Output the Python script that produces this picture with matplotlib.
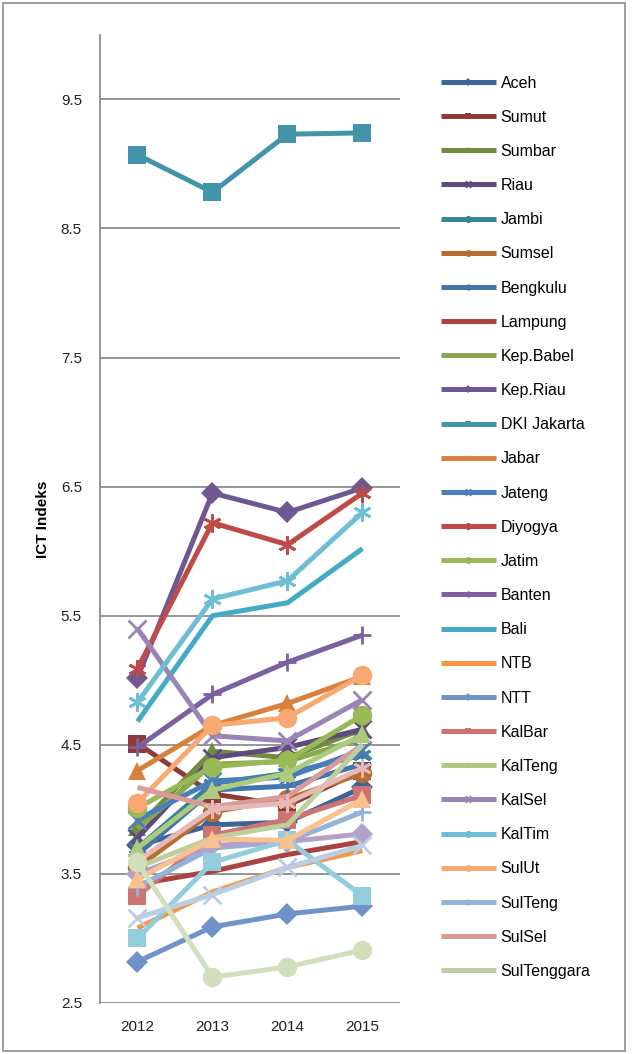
import matplotlib
matplotlib.use("Agg")
import matplotlib.pyplot as plt
import matplotlib.patches as patches

plt.rcParams["font.family"] = ["Liberation Sans", "DejaVu Sans"]

years = ["2012", "2013", "2014", "2015"]

# провинции (первые 27 попадают в легенду, остальные только на графике)
provinces = [
    "Aceh", "Sumut", "Sumbar", "Riau", "Jambi", "Sumsel", "Bengkulu", "Lampung",
    "Kep.Babel", "Kep.Riau", "DKI Jakarta", "Jabar", "Jateng", "Diyogya", "Jatim",
    "Banten", "Bali", "NTB", "NTT", "KalBar", "KalTeng", "KalSel", "KalTim",
    "SulUt", "SulTeng", "SulSel", "SulTenggara", "Gorontalo", "SulBar", "Maluku",
    "Maluku Utara", "Papua Barat", "Papua",
]

values = [
    [3.72, 3.88, 3.90, 4.17],   # Aceh
    [4.51, 4.12, 4.03, 4.30],   # Sumut
    [3.86, 4.45, 4.40, 4.62],   # Sumbar
    [3.78, 4.40, 4.48, 4.62],   # Riau
    [3.70, 4.20, 4.28, 4.42],   # Jambi
    [3.55, 3.98, 4.08, 4.28],   # Sumsel
    [3.65, 4.15, 4.18, 4.35],   # Bengkulu
    [3.42, 3.52, 3.65, 3.75],   # Lampung
    [3.85, 4.35, 4.37, 4.55],   # Kep.Babel
    [5.02, 6.45, 6.30, 6.49],   # Kep.Riau
    [9.07, 8.78, 9.23, 9.24],   # DKI Jakarta
    [4.30, 4.65, 4.82, 5.03],   # Jabar
    [3.92, 4.22, 4.25, 4.46],   # Jateng
    [5.09, 6.22, 6.05, 6.45],   # Diyogya
    [4.01, 4.33, 4.38, 4.73],   # Jatim
    [4.48, 4.89, 5.14, 5.35],   # Banten
    [4.68, 5.50, 5.60, 6.02],   # Bali
    [3.08, 3.36, 3.55, 3.68],   # NTB
    [2.82, 3.09, 3.19, 3.25],   # NTT
    [3.33, 3.80, 3.92, 4.11],   # KalBar
    [3.70, 4.15, 4.28, 4.58],   # KalTeng
    [5.40, 4.57, 4.53, 4.85],   # KalSel
    [4.83, 5.63, 5.77, 6.30],   # KalTim
    [4.05, 4.65, 4.71, 5.04],   # SulUt
    [3.40, 3.70, 3.75, 3.98],   # SulTeng
    [4.17, 4.02, 4.10, 4.50],   # SulSel
    [3.55, 3.78, 3.88, 4.50],   # SulTenggara
    [3.50, 3.72, 3.75, 3.81],   # Gorontalo
    [3.00, 3.59, 3.76, 3.33],   # SulBar
    [3.46, 3.77, 3.76, 4.08],   # Maluku
    [3.16, 3.34, 3.55, 3.72],   # Maluku Utara
    [3.60, 4.00, 4.05, 4.32],   # Papua Barat
    [3.59, 2.70, 2.78, 2.91],   # Papua
]

# цвета в духе Excel: 6 акцентов и их оттенки
colors = [
    "#3B6596", "#8E3B38", "#728B40", "#5E4A7C", "#36849A", "#B76E32",
    "#4474AC", "#AA4340", "#88A94F", "#6E5893", "#4294AB", "#D8813E",
    "#4A7EBB", "#BE4B48", "#98B954", "#7D60A0", "#46AAC5", "#F69546",
    "#6F93C9", "#CD7371", "#AECA7E", "#9A84B6", "#6EBFD3", "#F8A971",
    "#95B3D7", "#D99A98", "#BCD09F", "#B3A2C7", "#93CDDD", "#FAC090",
    "#B9CDE5", "#E6B9B8", "#D2DFBD",
]

marker_cycle = ["D", "s", "^", "x", "*", "o", "|", "", ""]

fig = plt.figure(figsize=(6.41, 10.54), dpi=100)
fig.patch.set_facecolor("white")
ax = fig.add_axes([0.156, 0.0484, 0.468, 0.9186])

x = list(range(len(years)))
lines = []
for i, (name, vals) in enumerate(zip(provinces, values)):
    m = marker_cycle[i % 9]
    kw = dict(color=colors[i], lw=3.6, solid_capstyle="butt", solid_joinstyle="miter",
              label=name, zorder=3 + i * 0.01)
    if m in ("x", "*", "|"):
        kw.update(marker="x" if m == "x" else ("+" if m == "|" else (6, 2, 0)),
                  markersize=13, mew=2.0, mfc=colors[i], mec=colors[i])
    elif m:
        size = {"D": 11, "s": 13, "^": 13, "o": 14}[m]
        kw.update(marker=m, markersize=size, mec=colors[i], mfc=colors[i], mew=0)
    line, = ax.plot(x, vals, **kw)
    lines.append(line)

# ── Оси ─────────────────────────────────────────────────────────────────
ax.set_xlim(-0.5, 3.5)
ax.set_ylim(2.5, 10.0)
ax.set_yticks([2.5, 3.5, 4.5, 5.5, 6.5, 7.5, 8.5, 9.5])
ax.set_yticklabels(["2.5", "3.5", "4.5", "5.5", "6.5", "7.5", "8.5", "9.5"])
ax.set_xticks(x)
ax.set_xticklabels(years)
ax.tick_params(axis="both", length=0, labelsize=11, colors="#222222", pad=12)
ax.tick_params(axis="y", pad=13)
ax.yaxis.grid(True, color="#8c8c8c", lw=1.3, zorder=0)
ax.set_axisbelow(True)
for side in ("top", "right", "bottom"):
    ax.spines[side].set_visible(False)
ax.spines["left"].set_color("#8c8c8c")
ax.spines["left"].set_linewidth(1.3)
ax.set_ylabel("ICT Indeks", fontsize=11, fontweight="bold", labelpad=8)

# ── Легенда (только 27 записей, как в оригинале) ──────────────────────────
fig.legend(
    handles=lines[:27],
    loc="upper left",
    bbox_to_anchor=(0.665, 0.942),
    frameon=False,
    fontsize=11.5,
    handlelength=3.45,
    handletextpad=0.3,
    labelspacing=1.2,
    markerscale=0.35,
)

# рамка всей диаграммы
fig.add_artist(patches.Rectangle(
    (0.005, 0.003), 0.97, 0.994, transform=fig.transFigure,
    fill=False, edgecolor="#8c8c8c", lw=1.2,
))

fig.savefig("out.png", dpi=100, facecolor="white")
